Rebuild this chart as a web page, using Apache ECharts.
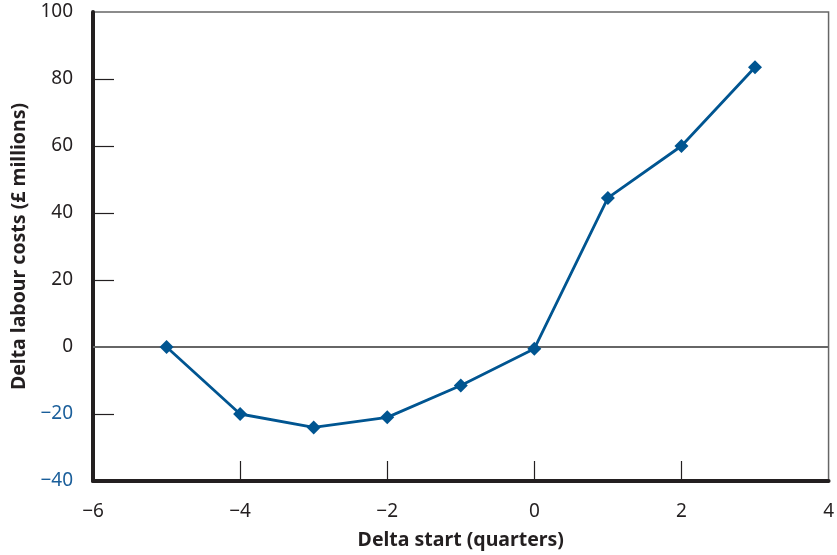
<!DOCTYPE html>
<html>
<head>
<meta charset="utf-8">
<script src="https://cdn.jsdelivr.net/npm/echarts@6/dist/echarts.min.js"></script>
<style>html,body{margin:0;padding:0;background:#fff}#c{width:837px;height:555px}</style>
</head>
<body>
<div id="c"></div>
<script>
var xValues = [-5, -4, -3, -2, -1, 0, 1, 2, 3];
var yValues = [0, -20, -24, -21, -11.5, -0.5, 44.5, 60, 83.5];
var xTicks = [-4, -2, 0, 2];
var yTicks = [-20, 20, 40, 60, 80];
var xTitle = 'Delta start (quarters)';
var yTitle = 'Delta labour costs (£ millions)';

var FONT = '"Noto Sans", sans-serif';
var BLUE = '#005591';
function fmt(v) { return v < 0 ? '\u2212' + Math.abs(v) : String(v); }

var chart = echarts.init(document.getElementById('c'), null, {renderer: 'canvas'});
chart.setOption({
  animation: false,
  grid: {left: 93, right: 5, top: 12, bottom: 71, show: true, borderColor: '#666', borderWidth: 1.5, backgroundColor: 'transparent'},
  xAxis: {
    type: 'value', min: -6, max: 4, interval: 2,
    name: xTitle, nameLocation: 'middle', nameGap: 49,
    nameTextStyle: {fontFamily: FONT, fontSize: 19.5, fontWeight: 'bold', color: '#231f20'},
    axisLine: {show: true, onZero: false, lineStyle: {color: '#231f20', width: 4}},
    axisTick: {show: true, inside: true, length: 20, customValues: xTicks, lineStyle: {color: '#231f20', width: 1.2}},
    axisLabel: {fontFamily: FONT, fontSize: 19, color: '#231f20', margin: 21, formatter: fmt},
    splitLine: {show: false}
  },
  yAxis: {
    type: 'value', min: -40, max: 100, interval: 20,
    name: yTitle, nameLocation: 'middle', nameGap: 64, nameRotate: 90,
    nameTextStyle: {fontFamily: FONT, fontSize: 19.5, fontWeight: 'bold', color: '#231f20'},
    axisLine: {show: true, onZero: false, lineStyle: {color: '#231f20', width: 4}},
    axisTick: {show: true, inside: true, length: 21, customValues: yTicks, lineStyle: {color: '#231f20', width: 1.2}},
    axisLabel: {fontFamily: FONT, fontSize: 19, margin: 20, formatter: fmt,
      color: function (v) { return Number(v) < 0 ? '#1a5e9a' : '#231f20'; }},
    splitLine: {show: false}
  },
  series: [{
    type: 'line',
    data: xValues.map(function (x, i) { return [x, yValues[i]]; }),
    symbol: 'diamond', symbolSize: 14, showSymbol: true,
    lineStyle: {color: BLUE, width: 2.8},
    itemStyle: {color: BLUE},
    z: 5,
    markLine: {
      silent: true, symbol: ['none', 'none'], label: {show: false},
      lineStyle: {color: '#666', width: 2, type: 'solid'},
      data: [{yAxis: 0}], z: 1
    }
  }]
});
</script>
</body>
</html>
